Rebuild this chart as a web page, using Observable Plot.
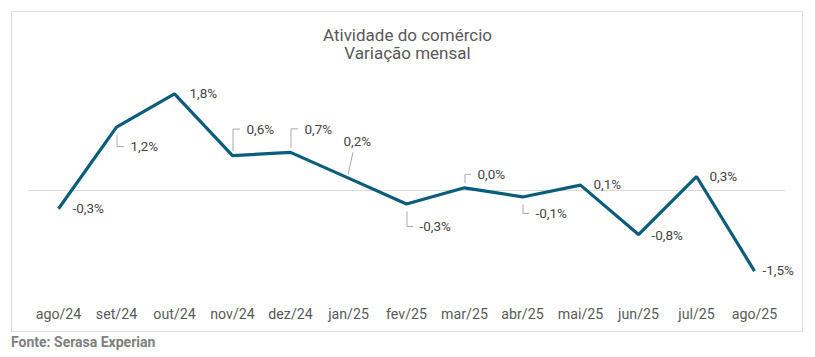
<!DOCTYPE html>
<html>
<head>
<meta charset="utf-8">
<script src="https://cdn.jsdelivr.net/npm/d3@7"></script>
<script src="https://cdn.jsdelivr.net/npm/@observablehq/plot@0.6"></script>
<style>
  html, body { margin: 0; padding: 0; background: #fff; }
  body { width: 815px; height: 357px; position: relative; overflow: hidden; font-family: Roboto, "Noto Sans", sans-serif; }
  #box { position: absolute; left: 11px; top: 11px; width: 790px; height: 319px; border: 1.5px solid #dedede; }
  #title { position: absolute; left: 0; width: 815px; top: 25.6px; text-align: center; font-size: 17px; line-height: 18.5px; color: #595959; }
  #chart { position: absolute; left: 0; top: 0; }
  #source { position: absolute; left: 11px; top: 334px; font-size: 14px; line-height: 16px; font-weight: bold; color: #808080; }
</style>
</head>
<body>
<div id="box"></div>
<div id="title">Atividade do comércio<br>Variação mensal</div>
<div id="chart"></div>
<div id="source">Fonte: Serasa Experian</div>
<script>
// ---- data ----
const months = ["ago/24","set/24","out/24","nov/24","dez/24","jan/25","fev/25","mar/25","abr/25","mai/25","jun/25","jul/25","ago/25"];
const values = [-0.34, 1.18, 1.80, 0.65, 0.71, 0.23, -0.25, 0.05, -0.12, 0.10, -0.82, 0.26, -1.50];
const valueLabels = ["-0,3%","1,2%","1,8%","0,6%","0,7%","0,2%","-0,3%","0,0%","-0,1%","0,1%","-0,8%","0,3%","-1,5%"];

// ---- label placement (layout, in pixels relative to each point) ----
const labelDx = [14, 14, 15, 14, 14, -5, 13, 13, 13, 13, 13, 13, 8];
const labelDy = [0, 20, 0, -26, -23, -36.5, 23, -13, 17, 0, 1, 0, 0];
const leader  = ["", "elbow", "", "elbow", "elbow", "diag", "elbow", "elbow", "elbow", "", "", "", ""];

const rows = months.map((m, i) => ({month: m, value: values[i], label: valueLabels[i], dx: labelDx[i], dy: labelDy[i], leader: leader[i]}));

const lineColor = "#0b5d7b";
const textColor = "#454545";

// leader lines drawn from the scaled point positions
const leaderMark = Plot.dot(rows, {
  x: "month", y: "value", r: 0,
  render(index, scales, values, dimensions, context) {
    const g = d3.create("svg:g").attr("fill", "none").attr("stroke", "#a8a8a8").attr("stroke-width", 1);
    for (const i of index) {
      const d = rows[i];
      const px = values.x[i], py = values.y[i];
      if (d.leader === "elbow") {
        const ly = py + d.dy;
        const y0 = d.dy > 0 ? py + 8 : py - 4;
        g.append("path").attr("d", `M${px + 1},${y0}V${ly}H${px + d.dx - 6}`);
      } else if (d.leader === "diag") {
        g.append("path").attr("d", `M${px + 5},${py + d.dy + 11}L${px},${py - 3}`);
      }
    }
    return g.node();
  }
});

const labelMarks = rows.map(d => Plot.text([d], {
  x: "month", y: "value", text: "label",
  dx: d.dx, dy: d.dy, textAnchor: "start",
  fontSize: 13.5, fill: textColor
}));

const chart = Plot.plot({
  width: 815,
  height: 357,
  marginLeft: 27.6,
  marginRight: 30.2,
  marginTop: 82.6,
  marginBottom: 59.6,
  style: {background: "transparent", fontFamily: "Roboto, 'Noto Sans', sans-serif", overflow: "visible"},
  x: {type: "point", domain: months, padding: 0.5, label: null},
  y: {domain: [-2, 2], axis: null},
  marks: [
    Plot.ruleY([0], {stroke: "#d9d9d9", strokeWidth: 1}),
    Plot.axisX({tickSize: 0, tickPadding: 11, fontSize: 14.2, fill: "#595959", label: null}),
    leaderMark,
    Plot.line(rows, {x: "month", y: "value", stroke: lineColor, strokeWidth: 3.2, strokeLinejoin: "miter", strokeLinecap: "butt"}),
    ...labelMarks
  ]
});
document.getElementById("chart").appendChild(chart);
</script>
</body>
</html>
